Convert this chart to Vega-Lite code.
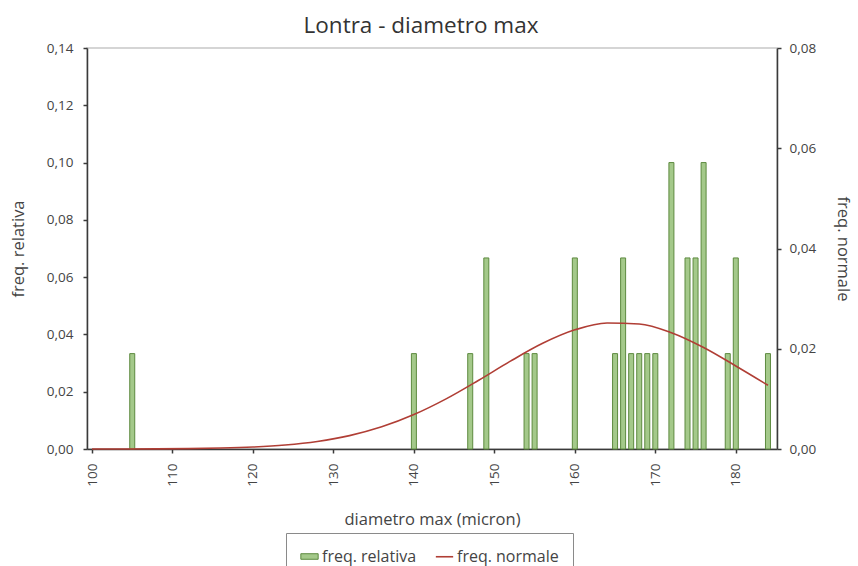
{
  "$schema": "https://vega.github.io/schema/vega-lite/v6.json",
  "autosize": {"type": "none"},
  "width": 690,
  "height": 401,
  "padding": {"left": 87, "top": 48, "right": 81, "bottom": 117},
  "background": "white",
  "title": {"text": "Lontra - diametro max", "font": "Open Sans", "fontSize": 22.5, "fontWeight": "normal", "color": "#333333", "offset": 4, "dx": -11, "anchor": "middle"},
  "config": {
    "view": {"stroke": "#c8c8c8", "strokeWidth": 1.5},
    "axis": {"labelFont": "Open Sans", "titleFont": "Open Sans", "labelFontSize": 13.5, "titleFontSize": 16.5, "titleFontWeight": "normal", "labelColor": "#444444", "titleColor": "#444444", "domainColor": "#3a3a3a", "domainWidth": 1.5, "tickColor": "#3a3a3a", "tickWidth": 1.5, "tickSize": 4, "grid": false},
    "legend": {"labelFont": "Open Sans", "labelFontSize": 16, "labelColor": "#444444", "labelOffset": 3, "symbolSize": 300, "labelLimit": 400}
  },
  "datasets": {
    "bars": [
      {"diametro": 105, "freq": 0.0333},
      {"diametro": 140, "freq": 0.0333},
      {"diametro": 147, "freq": 0.0333},
      {"diametro": 149, "freq": 0.0667},
      {"diametro": 154, "freq": 0.0333},
      {"diametro": 155, "freq": 0.0333},
      {"diametro": 160, "freq": 0.0667},
      {"diametro": 165, "freq": 0.0333},
      {"diametro": 166, "freq": 0.0667},
      {"diametro": 167, "freq": 0.0333},
      {"diametro": 168, "freq": 0.0333},
      {"diametro": 169, "freq": 0.0333},
      {"diametro": 170, "freq": 0.0333},
      {"diametro": 172, "freq": 0.1},
      {"diametro": 174, "freq": 0.0667},
      {"diametro": 175, "freq": 0.0667},
      {"diametro": 176, "freq": 0.1},
      {"diametro": 179, "freq": 0.0333},
      {"diametro": 180, "freq": 0.0667},
      {"diametro": 184, "freq": 0.0333}
    ],
    "curve": [
      {"diametro": 100, "normale": 0.0000047},
      {"diametro": 104, "normale": 0.000013},
      {"diametro": 108, "normale": 0.0000336},
      {"diametro": 112, "normale": 0.0000819},
      {"diametro": 116, "normale": 0.000187},
      {"diametro": 120, "normale": 0.000399},
      {"diametro": 124, "normale": 0.000802},
      {"diametro": 128, "normale": 0.00151},
      {"diametro": 132, "normale": 0.00267},
      {"diametro": 136, "normale": 0.00442},
      {"diametro": 140, "normale": 0.00687},
      {"diametro": 144, "normale": 0.0100},
      {"diametro": 148, "normale": 0.01367},
      {"diametro": 152, "normale": 0.01753},
      {"diametro": 156, "normale": 0.02108},
      {"diametro": 160, "normale": 0.02377},
      {"diametro": 164, "normale": 0.02514},
      {"diametro": 168, "normale": 0.02494},
      {"diametro": 172, "normale": 0.0232},
      {"diametro": 176, "normale": 0.02025},
      {"diametro": 180, "normale": 0.01657},
      {"diametro": 184, "normale": 0.01272}
    ]
  },
  "layer": [
    {
      "data": {"name": "bars"},
      "mark": {"type": "bar", "width": 5, "stroke": "#5d8a3f", "strokeWidth": 1},
      "encoding": {
        "x": {"field": "diametro", "type": "quantitative", "scale": {"domain": [100, 184.5], "nice": false, "zero": false},
          "axis": {"title": "diametro max (micron)", "values": [100, 110, 120, 130, 140, 150, 160, 170, 180], "labelAngle": -90, "labelPadding": 10, "titlePadding": 25}},
        "y": {"field": "freq", "type": "quantitative", "scale": {"domain": [0, 0.14], "nice": false},
          "axis": {"title": "freq. relativa", "orient": "left", "values": [0, 0.02, 0.04, 0.06, 0.08, 0.1, 0.12, 0.14], "labelExpr": "replace(format(datum.value, '.2f'), '.', ',')", "labelPadding": 10, "titlePadding": 20}},
        "fill": {"datum": "freq. relativa", "type": "nominal",
          "scale": {"domain": ["freq. relativa"], "range": ["#a4c98a"]},
          "legend": {"title": null, "orient": "none", "direction": "horizontal", "legendX": 213, "legendY": 499,
            "padding": 0, "symbolType": "M-1,-0.32H1V0.32H-1Z", "symbolStrokeColor": "#5d8a3f", "symbolStrokeWidth": 1,
            "labelExpr": "''"}}
      }
    },
    {
      "data": {"name": "curve"},
      "mark": {"type": "line", "strokeWidth": 1.6, "interpolate": "monotone"},
      "encoding": {
        "x": {"field": "diametro", "type": "quantitative"},
        "y": {"field": "normale", "type": "quantitative", "scale": {"domain": [0, 0.08], "nice": false},
          "axis": {"title": "freq. normale", "orient": "right", "values": [0, 0.02, 0.04, 0.06, 0.08], "labelExpr": "replace(format(datum.value, '.2f'), '.', ',')", "labelPadding": 8, "titlePadding": 19}},
        "stroke": {"datum": "freq. normale", "type": "nominal",
          "scale": {"domain": ["freq. relativa", "freq. normale"], "range": ["transparent", "#b03e35"]},
          "legend": {"title": null, "orient": "none", "direction": "horizontal", "legendX": 199, "legendY": 485,
            "strokeColor": "#8a8a8a", "padding": 14, "columnPadding": 15, "symbolType": "stroke", "symbolStrokeWidth": 1.6}}
      }
    }
  ],
  "resolve": {"scale": {"y": "independent"}}
}
